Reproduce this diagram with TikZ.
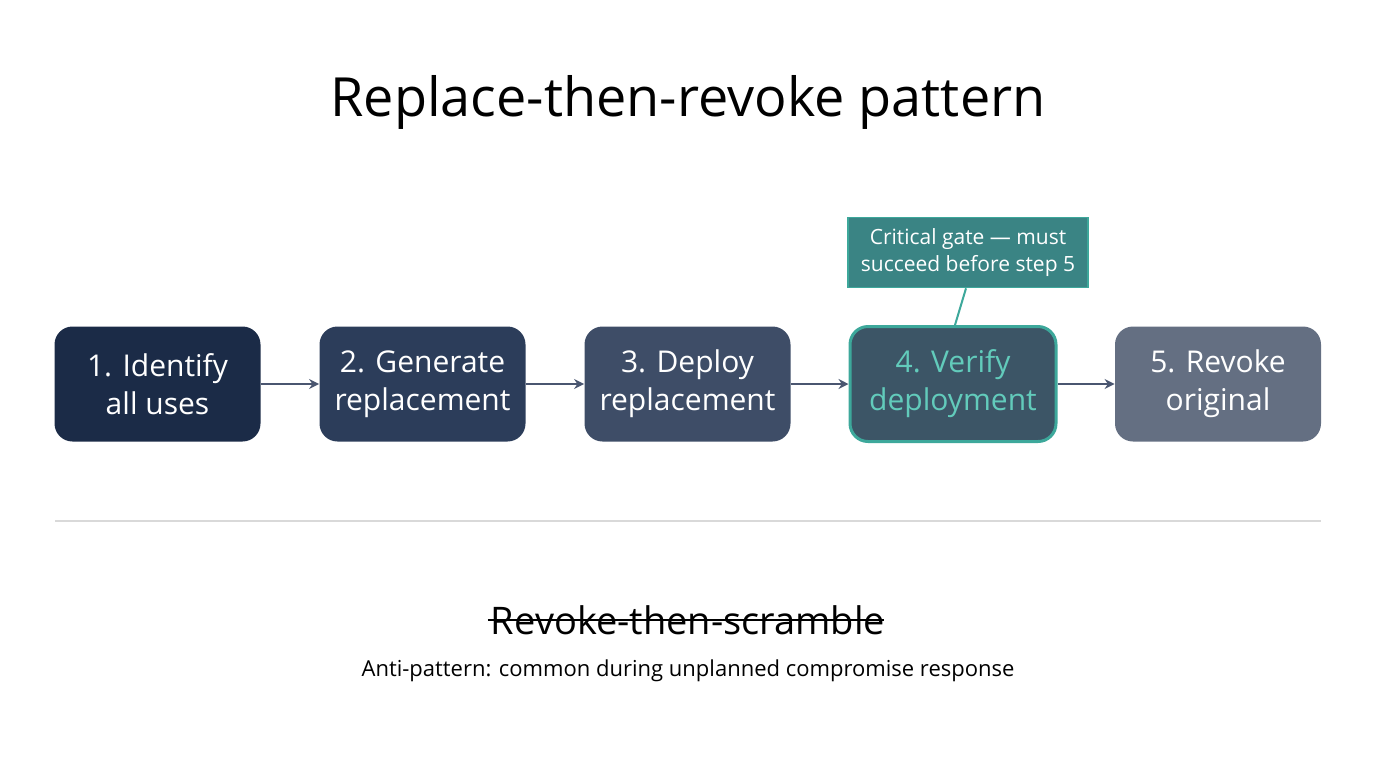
\documentclass[tikz,border=0pt]{standalone}
\usepackage{fontspec}
\setmainfont{Open Sans}
\usetikzlibrary{positioning,arrows.meta}
\definecolor{StepA}{HTML}{1B2B47}
\definecolor{StepB}{HTML}{2C3D5A}
\definecolor{StepC}{HTML}{3E4D67}
\definecolor{StepD}{HTML}{3C5566}
\definecolor{StepE}{HTML}{646F82}
\definecolor{GateTeal}{HTML}{3DA89B}
\definecolor{GateFill}{HTML}{3A8484}
\definecolor{GateText}{HTML}{62CBBB}
\definecolor{ArrowGray}{HTML}{4A5670}
\tikzset{
    stepbox/.style={rounded corners=9pt, minimum width=103pt, minimum height=57.5pt,
        text=white, align=center, font=\fontsize{15}{19}\selectfont, inner sep=0pt},
    flow/.style={-{Stealth[length=5pt,width=5pt]}, ArrowGray, line width=0.8pt}
}
\begin{document}
\begin{tikzpicture}[x=0.5pt,y=-0.5pt]
    \useasboundingbox (0,0) rectangle (1376,768);
    % Title
    \node (title) at (688,102) {\fontsize{27}{32}\selectfont Replace-then-revoke pattern};

    % Steps
    \node[stepbox, fill=StepA] (s1) at (157.5,384) {1. Identify\\all uses};
    \node[stepbox, fill=StepB] (s2) at (422.5,384) {2. Generate\\replacement};
    \node[stepbox, fill=StepC] (s3) at (687.5,384) {3. Deploy\\replacement};
    \node[stepbox, fill=StepD, draw=GateTeal, line width=1.5pt, text=GateText] (s4) at (953,384) {4. Verify\\deployment};
    \node[stepbox, fill=StepE] (s5) at (1218,384) {5. Revoke\\original};
    \foreach \a/\b in {s1/s2,s2/s3,s3/s4,s4/s5}
        \draw[flow] (\a) -- (\b);

    % Gate callout
    \node[fill=GateFill, draw=GateTeal, line width=0.8pt, text=white, align=center,
        minimum width=120pt, minimum height=35pt, inner sep=0pt,
        font=\fontsize{10.5}{13.5}\selectfont] (gate) at (968,252.5) {Critical gate — must\\succeed before step 5};
    \draw[GateTeal, line width=1pt] (gate.south) ++(-2,0) coordinate (g0) -- ([xshift=1pt]s4.north);

    % Separator
    \coordinate (l0) at (55,521);
    \coordinate (l1) at (1321,521);
    \draw[black!15, line width=0.6pt] (l0) -- (l1);

    % Anti-pattern
    \node (anti) at (688,620) {\fontsize{19}{23}\selectfont Revoke-then-scramble};
    \draw[black, line width=0.9pt] (anti.west) ++(4,0) coordinate (a0) -- ([xshift=-4pt]anti.east);
    \node (note) at (688,671) {\fontsize{11}{14}\selectfont Anti-pattern: common during unplanned compromise response};
\end{tikzpicture}
\end{document}
